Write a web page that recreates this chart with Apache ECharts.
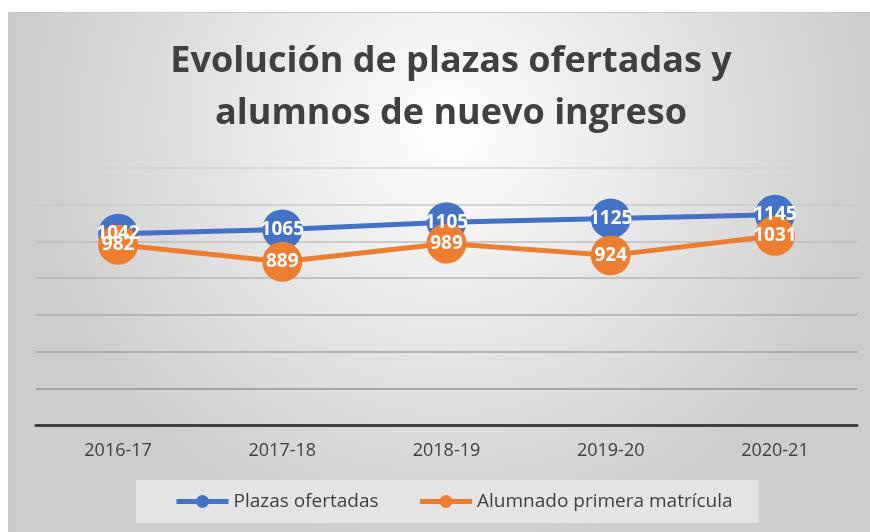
<!DOCTYPE html>
<html>
<head>
<meta charset="utf-8">
<script src="https://cdn.jsdelivr.net/npm/echarts@6/dist/echarts.min.js"></script>
<style>
  html, body { margin: 0; padding: 0; background: #fff; }
  #chart { width: 870px; height: 532px; }
</style>
</head>
<body>
<div id="chart"></div>
<script>
// datos del grafico
const cursos = ['2016-17', '2017-18', '2018-19', '2019-20', '2020-21']
const plazasOfertadas = [1042, 1065, 1105, 1125, 1145]
const alumnadoPrimera = [982, 889, 989, 924, 1031]

const fuente = '"Open Sans", "Noto Sans", sans-serif'
const chart = echarts.init(document.getElementById('chart'))

const labelStyle = {
  show: true,
  position: 'inside',
  color: '#fff',
  fontSize: 19,
  fontWeight: 'bold',
  fontFamily: fuente
}

chart.setOption({
  backgroundColor: '#fff',
  animation: false,
  graphic: [{
    type: 'rect',
    z: -10,
    silent: true,
    shape: { x: 8.5, y: 12.5, width: 880, height: 530 },
    style: {
      stroke: '#c8c8c8',
      lineWidth: 1,
      fill: {
        type: 'radial', x: 0.5, y: 0.22, r: 0.8,
        colorStops: [
          { offset: 0, color: '#ffffff' },
          { offset: 1, color: '#cdcdcd' }
        ]
      }
    }
  }],
  title: {
    text: 'Evolución de plazas ofertadas y\nalumnos de nuevo ingreso',
    left: 446,
    textAlign: 'center',
    top: 31,
    textStyle: {
      fontFamily: fuente,
      fontSize: 36,
      fontWeight: 'bold',
      color: '#404040',
      lineHeight: 52
    }
  },
  legend: {
    left: 136,
    top: 480,
    padding: [12, 26, 12, 38],
    backgroundColor: '#e4e4e4',
    itemWidth: 52,
    itemHeight: 16,
    itemGap: 39,
    textStyle: { fontFamily: fuente, fontSize: 19, color: '#404040' },
    data: [
      { name: 'Plazas ofertadas', lineStyle: { width: 5 } },
      { name: 'Alumnado primera matrícula', lineStyle: { width: 5 } }
    ]
  },
  grid: { left: 36, right: 13, top: 168, bottom: 107 },
  xAxis: {
    type: 'category',
    data: cursos,
    axisLine: { lineStyle: { color: '#404040', width: 3 } },
    axisTick: { show: false },
    axisLabel: { fontFamily: fuente, fontSize: 18, color: '#404040', margin: 17 }
  },
  yAxis: {
    type: 'value',
    min: 0,
    max: 1400,
    interval: 200,
    axisLabel: { show: false },
    axisLine: { show: false },
    axisTick: { show: false },
    splitLine: {
      lineStyle: {
        color: ['#8c8c8c', '#969696', '#a0a0a0', '#aaaaaa', '#b4b4b4', '#bebebe', '#c8c8c8', '#d2d2d2'],
        width: 1.5
      }
    }
  },
  series: [{
    name: 'Plazas ofertadas',
    type: 'line',
    data: plazasOfertadas,
    symbol: 'circle',
    symbolSize: 40,
    color: '#4472C4',
    lineStyle: { width: 5 },
    label: labelStyle
  }, {
    name: 'Alumnado primera matrícula',
    type: 'line',
    data: alumnadoPrimera,
    symbol: 'circle',
    symbolSize: 40,
    color: '#ED7D31',
    lineStyle: { width: 5 },
    label: labelStyle
  }]
})
</script>
</body>
</html>
